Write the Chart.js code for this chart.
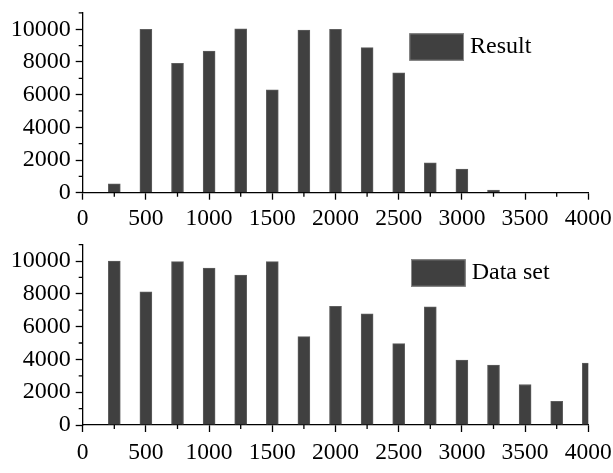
<!DOCTYPE html>
<html>
<head>
<meta charset="utf-8">
<script src="https://cdn.jsdelivr.net/npm/chart.js@4/dist/chart.umd.min.js"></script>
<style>
  html, body { margin: 0; padding: 0; background: #ffffff; }
  #wrap { position: relative; width: 613px; height: 473px; overflow: hidden; background: #fff; }
  canvas { position: absolute; left: 0; }
  #c1 { top: 0px; }
  #c2 { top: 232px; }
</style>
</head>
<body>
<div id="wrap">
  <canvas id="c1" width="613" height="236"></canvas>
  <canvas id="c2" width="613" height="241"></canvas>
</div>
<script>
// ---- data ----
const positions = [250, 500, 750, 1000, 1250, 1500, 1750, 2000, 2250, 2500, 2750, 3000, 3250, 3500, 3750, 4000];
const resultValues = [540, 10000, 7910, 8670, 10020, 6290, 9950, 10000, 8880, 7330, 1820, 1450, 160, 0, 0, 0];
const datasetValues = [10000, 8120, 9960, 9570, 9140, 9960, 5390, 7240, 6780, 4960, 7200, 3960, 3650, 2470, 1450, 3780];
const xTickLabels = ['0', '500', '1000', '1500', '2000', '2500', '3000', '3500', '4000'];
const yTickLabels = ['0', '2000', '4000', '6000', '8000', '10000'];
const seriesNames = ['Result', 'Data set'];

const FONT = '"Liberation Serif", "Times New Roman", serif';
const BAR = '#404040';

const minorTicks = {
  id: 'minorTicks',
  afterDraw(chart) {
    const ctx = chart.ctx;
    const xs = chart.scales.x, ys = chart.scales.y;
    const area = chart.chartArea;
    ctx.save();
    ctx.strokeStyle = '#000';
    ctx.lineWidth = 1.3;
    ctx.beginPath();
    for (let v = 250; v < 4000; v += 500) {
      const px = xs.getPixelForValue(v);
      ctx.moveTo(px, area.bottom);
      ctx.lineTo(px, area.bottom + 4);
    }
    for (let v = 1000; v <= 11000; v += 2000) {
      const py = ys.getPixelForValue(v);
      ctx.moveTo(area.left, py);
      ctx.lineTo(area.left - 4, py);
    }
    ctx.stroke();
    ctx.restore();
  }
};

const boxLegend = {
  id: 'boxLegend',
  afterDraw(chart, args, opts) {
    const ctx = chart.ctx;
    const ds = chart.data.datasets[0];
    ctx.save();
    ctx.fillStyle = ds.backgroundColor;
    ctx.fillRect(opts.x, opts.y, opts.w, opts.h);
    ctx.strokeStyle = '#8a8a8a';
    ctx.lineWidth = 1;
    ctx.strokeRect(opts.x + 0.5, opts.y + 0.5, opts.w - 1, opts.h - 1);
    ctx.fillStyle = '#000';
    ctx.font = '24px ' + FONT;
    ctx.textBaseline = 'middle';
    ctx.textAlign = 'left';
    ctx.fillText(ds.label, opts.x + opts.w + 6, opts.y + opts.h / 2);
    ctx.restore();
  }
};

function makeChart(id, name, values, padTop, xAxisHeight, labelPad, legendPos) {
  const ctx = document.getElementById(id);
  return new Chart(ctx, {
    type: 'bar',
    data: {
      datasets: [{
        label: name,
        data: positions.map((p, i) => ({ x: p, y: values[i] })),
        backgroundColor: BAR,
        borderColor: '#5e5e5e',
        borderWidth: 1,
        barThickness: 12,
        clip: 0
      }]
    },
    options: {
      responsive: false,
      animation: false,
      devicePixelRatio: 1,
      layout: { padding: { top: padTop, right: 24.7, left: 0, bottom: 0 } },
      plugins: {
        legend: { display: false },
        tooltip: { enabled: false },
        boxLegend: legendPos
      },
      scales: {
        x: {
          type: 'linear',
          min: 0, max: 4000,
          offset: false,
          grid: { display: true, drawOnChartArea: false, tickLength: 7, tickColor: '#000', tickWidth: 1.3, offset: false },
          border: { display: true, color: '#000', width: 1.3 },
          ticks: {
            stepSize: 500,
            autoSkip: false,
            maxRotation: 0,
            padding: labelPad,
            color: '#000',
            font: { family: FONT, size: 23.5 },
            callback: (v) => xTickLabels.includes(String(v)) ? String(v) : ''
          },
          afterFit(s) { s.height = xAxisHeight; s.paddingLeft = 0; s.paddingRight = 0; }
        },
        y: {
          type: 'linear',
          min: 0, max: 11000,
          grid: { display: true, drawOnChartArea: false, tickLength: 7, tickColor: '#000', tickWidth: 1.3 },
          border: { display: true, color: '#000', width: 1.3 },
          ticks: {
            stepSize: 1000,
            autoSkip: false,
            padding: 5,
            color: '#000',
            font: { family: FONT, size: 24 },
            callback: (v) => yTickLabels.includes(String(v)) ? String(v) : ''
          },
          afterBuildTicks(s) { s.ticks = s.ticks.filter(t => yTickLabels.includes(String(t.value))); },
          afterFit(s) { s.width = 82.7; s.paddingTop = 0; s.paddingBottom = 0; }
        }
      }
    },
    plugins: [minorTicks, boxLegend]
  });
}

makeChart('c1', seriesNames[0], resultValues, 12.9, 236 - 192.7, 5,
  { x: 409.3, y: 33.3, w: 54.7, h: 27.4 });
makeChart('c2', seriesNames[1], datasetValues, 12.6, 241 - 193, 7,
  { x: 411, y: 27.3, w: 54.7, h: 27.4 });
</script>
</body>
</html>
